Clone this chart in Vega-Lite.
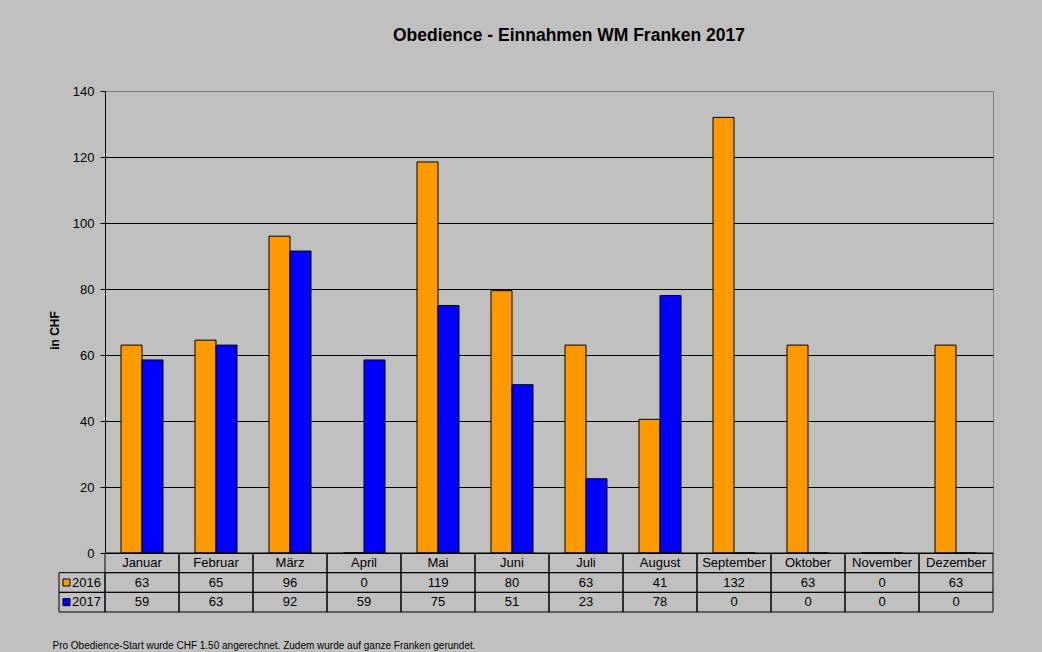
{
  "$schema": "https://vega.github.io/schema/vega-lite/v6.json",
  "width": 888,
  "height": 462,
  "autosize": {"type": "none"},
  "padding": {"left": 105, "top": 91, "right": 49, "bottom": 99},
  "background": "#C0C0C0",
  "config": {"font": "Liberation Sans", "view": {"stroke": "#808080", "strokeWidth": 1}},
  "title": {"text": "Obedience - Einnahmen WM Franken 2017", "font": "Liberation Sans", "fontSize": 17.5, "fontWeight": "bold", "color": "black", "anchor": "middle", "frame": "group", "dx": 20, "offset": 27, "baseline": "alphabetic"},
  "datasets": {
    "einnahmen": [
      {"month": "Januar", "series": "2016", "value": 63},
      {"month": "Januar", "series": "2017", "value": 58.5},
      {"month": "Februar", "series": "2016", "value": 64.5},
      {"month": "Februar", "series": "2017", "value": 63},
      {"month": "März", "series": "2016", "value": 96},
      {"month": "März", "series": "2017", "value": 91.5},
      {"month": "April", "series": "2016", "value": 0},
      {"month": "April", "series": "2017", "value": 58.5},
      {"month": "Mai", "series": "2016", "value": 118.5},
      {"month": "Mai", "series": "2017", "value": 75},
      {"month": "Juni", "series": "2016", "value": 79.5},
      {"month": "Juni", "series": "2017", "value": 51},
      {"month": "Juli", "series": "2016", "value": 63},
      {"month": "Juli", "series": "2017", "value": 22.5},
      {"month": "August", "series": "2016", "value": 40.5},
      {"month": "August", "series": "2017", "value": 78},
      {"month": "September", "series": "2016", "value": 132},
      {"month": "September", "series": "2017", "value": 0},
      {"month": "Oktober", "series": "2016", "value": 63},
      {"month": "Oktober", "series": "2017", "value": 0},
      {"month": "November", "series": "2016", "value": 0},
      {"month": "November", "series": "2017", "value": 0},
      {"month": "Dezember", "series": "2016", "value": 63},
      {"month": "Dezember", "series": "2017", "value": 0}
    ],
    "monate": [
      {"month": "Januar", "row": "Monat"},
      {"month": "Februar", "row": "Monat"},
      {"month": "März", "row": "Monat"},
      {"month": "April", "row": "Monat"},
      {"month": "Mai", "row": "Monat"},
      {"month": "Juni", "row": "Monat"},
      {"month": "Juli", "row": "Monat"},
      {"month": "August", "row": "Monat"},
      {"month": "September", "row": "Monat"},
      {"month": "Oktober", "row": "Monat"},
      {"month": "November", "row": "Monat"},
      {"month": "Dezember", "row": "Monat"}
    ],
    "reihen": [
      {"series": "2016", "col": "Legende"},
      {"series": "2017", "col": "Legende"}
    ]
  },
  "layer": [
    {
      "data": {"name": "einnahmen"},
      "mark": {"type": "bar", "stroke": "black", "strokeWidth": 1},
      "encoding": {
        "x": {
          "field": "month", "type": "nominal", "sort": null,
          "scale": {"domain": ["Januar", "Februar", "März", "April", "Mai", "Juni", "Juli", "August", "September", "Oktober", "November", "Dezember"], "paddingInner": 0, "paddingOuter": 0},
          "axis": {"labels": false, "ticks": false, "domain": false, "grid": false,
            "title": "Pro Obedience-Start  wurde CHF 1.50 angerechnet. Zudem wurde auf ganze Franken gerundet.",
            "titleFontSize": 10, "titleFontWeight": "normal", "titleColor": "black", "titleAnchor": "start", "titleAlign": "left",
            "titleX": -53, "titleY": 95, "titleBaseline": "alphabetic"}
        },
        "xOffset": {"field": "series", "type": "nominal", "scale": {"domain": ["2016", "2017"], "paddingInner": 0, "paddingOuter": 0.762}},
        "y": {
          "field": "value", "type": "quantitative",
          "scale": {"domain": [0, 140], "nice": false},
          "axis": {"values": [0, 20, 40, 60, 80, 100, 120, 140], "title": "in CHF",
            "domainColor": "black", "tickColor": "black", "tickSize": 5, "labelFontSize": 13, "labelColor": "black", "labelPadding": 6,
            "grid": true, "gridColor": {"condition": {"test": "datum.value == 140", "value": "#808080"}, "value": "black"}, "gridOpacity": 1,
            "titleFontSize": 12, "titleFontWeight": "bold", "titleColor": "black", "titlePadding": 11, "titleY": 239}
        },
        "fill": {"field": "series", "type": "nominal", "scale": {"domain": ["2016", "2017"], "range": ["#FF9900", "#0000FF"]}, "legend": null}
      }
    },
    {
      "layer": [
        {
          "data": {"name": "monate"},
          "mark": {"type": "rect", "fillOpacity": 0, "stroke": "black", "strokeWidth": 1},
          "encoding": {
            "x": {"field": "month", "type": "nominal", "sort": null, "axis": null},
            "y": {"field": "row", "type": "nominal", "axis": null}
          }
        },
        {
          "data": {"name": "monate"},
          "mark": {"type": "text", "fontSize": 13, "color": "black", "baseline": "middle", "align": "center"},
          "encoding": {
            "x": {"field": "month", "type": "nominal", "sort": null, "axis": null},
            "y": {"field": "row", "type": "nominal", "axis": null},
            "text": {"field": "month"}
          }
        },
        {
          "data": {"name": "einnahmen"},
          "mark": {"type": "rect", "fillOpacity": 0, "stroke": "black", "strokeWidth": 1},
          "encoding": {
            "x": {"field": "month", "type": "nominal", "sort": null, "axis": null},
            "y": {"field": "series", "type": "nominal", "axis": null}
          }
        },
        {
          "data": {"name": "einnahmen"},
          "mark": {"type": "text", "fontSize": 13, "color": "black", "baseline": "middle", "align": "center"},
          "encoding": {
            "x": {"field": "month", "type": "nominal", "sort": null, "axis": null},
            "y": {"field": "series", "type": "nominal", "axis": null},
            "text": {"field": "value", "type": "quantitative", "format": "d"}
          }
        }
      ],
      "encoding": {
        "x": {"field": "month", "type": "nominal", "scale": {"domain": ["Januar", "Februar", "März", "April", "Mai", "Juni", "Juli", "August", "September", "Oktober", "November", "Dezember"], "paddingInner": 0, "paddingOuter": 0}},
        "y": {"field": "series", "type": "nominal", "scale": {"domain": ["Monat", "2016", "2017"], "range": [462, 521], "paddingInner": 0, "paddingOuter": 0}}
      }
    },
    {
      "data": {"name": "reihen"},
      "layer": [
        {
          "mark": {"type": "rect", "fillOpacity": 0, "stroke": "black", "strokeWidth": 1},
          "encoding": {
            "x": {"field": "col", "type": "nominal", "axis": null},
            "y": {"field": "series", "type": "nominal", "axis": null}
          }
        },
        {
          "mark": {"type": "point", "shape": "square", "size": 49, "filled": true, "opacity": 1, "stroke": "black", "strokeWidth": 1},
          "encoding": {
            "x": {"field": "col", "type": "nominal", "bandPosition": 0.163, "axis": null},
            "y": {"field": "series", "type": "nominal", "axis": null},
            "fill": {"field": "series", "type": "nominal", "legend": null}
          }
        },
        {
          "mark": {"type": "text", "fontSize": 13, "color": "black", "baseline": "middle", "align": "left"},
          "encoding": {
            "x": {"field": "col", "type": "nominal", "bandPosition": 0.283, "axis": null},
            "y": {"field": "series", "type": "nominal", "axis": null},
            "text": {"field": "series"}
          }
        }
      ],
      "encoding": {
        "x": {"field": "col", "type": "nominal", "scale": {"domain": ["Legende"], "range": [-46, 0], "paddingInner": 0, "paddingOuter": 0}},
        "y": {"field": "series", "type": "nominal", "scale": {"domain": ["Monat", "2016", "2017"], "range": [462, 521], "paddingInner": 0, "paddingOuter": 0}}
      }
    }
  ],
  "resolve": {"scale": {"x": "independent", "y": "independent"}}
}
